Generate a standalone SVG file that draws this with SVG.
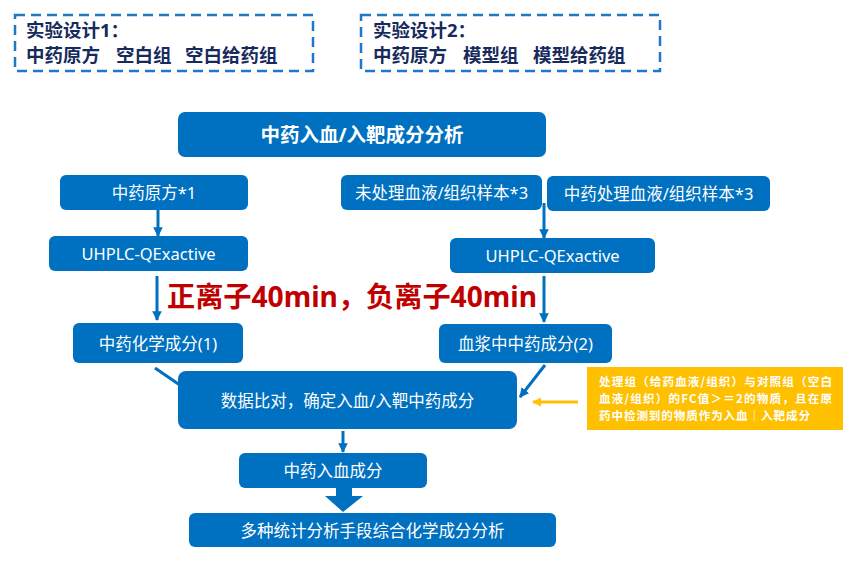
<svg xmlns="http://www.w3.org/2000/svg" width="864" height="566" viewBox="0 0 864 566">
<defs>
<marker id="ah" viewBox="0 0 10 10" refX="9" refY="5" markerWidth="3.2" markerHeight="3.2" orient="auto" markerUnits="strokeWidth">
<path d="M0,0 L10,5 L0,10 Z" fill="#0070c0"/>
</marker>
<marker id="ahy" viewBox="0 0 10 10" refX="9" refY="5" markerWidth="3" markerHeight="3" orient="auto" markerUnits="strokeWidth">
<path d="M0,0 L10,5 L0,10 Z" fill="#ffc000"/>
</marker>
<style>
.dash{fill:none;stroke:#1f78c8;stroke-width:2.5;stroke-dasharray:10 6}
.hd{font-family:"Noto Sans","Noto Sans CJK SC",sans-serif;font-weight:bold;font-size:18.5px;fill:#172a5c}
.box{fill:#0070c0}
.t{font-family:"Noto Sans","Noto Sans CJK SC",sans-serif;font-size:16.5px;fill:#ffffff;text-anchor:middle;dominant-baseline:central}
.tb{font-weight:bold;font-size:19.5px}
.con{stroke:#0070c0;stroke-width:3;fill:none;marker-end:url(#ah)}
.yt{font-family:"Noto Sans CJK SC",sans-serif;font-weight:bold;font-size:11.6px;fill:#ffffff}
.red{font-family:"Noto Sans","Noto Sans CJK SC",sans-serif;font-weight:bold;font-size:28px;fill:#c00000}
</style>
</defs>
<rect width="864" height="566" fill="#ffffff"/>

<g id="design1">
<rect class="dash" x="15" y="15" width="298" height="56"/>
<text class="hd" x="26" y="37">实验设计1：</text>
<text class="hd" y="62"><tspan x="26">中药原方</tspan><tspan x="116">空白组</tspan><tspan x="185">空白给药组</tspan></text>
</g>
<g id="design2">
<rect class="dash" x="361" y="15" width="299" height="56"/>
<text class="hd" x="373" y="37">实验设计2：</text>
<text class="hd" y="62"><tspan x="373">中药原方</tspan><tspan x="463">模型组</tspan><tspan x="533">模型给药组</tspan></text>
</g>

<g id="connectors">
<line class="con" x1="158" y1="210" x2="158" y2="236"/>
<line class="con" x1="544" y1="203" x2="544" y2="238"/>
<line class="con" x1="157" y1="276" x2="157" y2="320"/>
<line class="con" x1="544" y1="276" x2="544" y2="322"/>
<line class="con" x1="155" y1="368" x2="190" y2="392"/>
<line class="con" x1="545" y1="365" x2="520" y2="397"/>
<line class="con" x1="343" y1="431" x2="343" y2="452"/>
<line stroke="#ffc000" stroke-width="3" marker-end="url(#ahy)" x1="578" y1="402" x2="533" y2="402"/>
<path d="M336,488 L352,488 L352,496 L363,496 L343,512 L325,496 L336,496 Z" fill="#0070c0"/>
</g>

<g id="title">
<rect class="box" x="178" y="112" width="368" height="45" rx="7"/>
<text class="t tb" x="362" y="134.5">中药入血/入靶成分分析</text>
</g>
<g id="herb">
<rect class="box" x="60" y="175" width="188" height="35" rx="6"/>
<text class="t" x="154" y="192.5">中药原方*1</text>
</g>
<g id="uhplc1">
<rect class="box" x="49" y="236" width="199" height="35" rx="6"/>
<text class="t" x="148.5" y="253.5">UHPLC-QExactive</text>
</g>
<g id="untreated">
<rect class="box" x="341" y="175" width="201" height="35" rx="6"/>
<text class="t" x="441.5" y="192.5">未处理血液/组织样本*3</text>
</g>
<g id="treated">
<rect class="box" x="547" y="176" width="223" height="35" rx="6"/>
<text class="t" x="658.5" y="193.5">中药处理血液/组织样本*3</text>
</g>
<g id="uhplc2">
<rect class="box" x="450" y="238" width="205" height="35" rx="6"/>
<text class="t" x="552.5" y="255.5">UHPLC-QExactive</text>
</g>
<text class="red" x="167" y="307" textLength="370" lengthAdjust="spacingAndGlyphs">正离子40min，负离子40min</text>
<g id="chem">
<rect class="box" x="73" y="323" width="170" height="40" rx="6"/>
<text class="t" x="158" y="343">中药化学成分(1)</text>
</g>
<g id="plasma">
<rect class="box" x="439" y="324" width="173" height="39" rx="6"/>
<text class="t" x="525.5" y="343.5">血浆中中药成分(2)</text>
</g>
<g id="compare">
<rect class="box" x="178" y="371" width="339" height="58" rx="8"/>
<text class="t" x="347.5" y="400">数据比对，确定入血/入靶中药成分</text>
</g>
<g id="note">
<rect x="587" y="367" width="256" height="63" fill="#ffc000"/>
<text class="yt" x="599" y="386" textLength="233" lengthAdjust="spacing">处理组（给药血液/组织）与对照组（空白</text>
<text class="yt" x="599" y="403" textLength="233" lengthAdjust="spacing">血液/组织）的FC值＞＝2的物质，且在原</text>
<text class="yt" x="599" y="420" textLength="211" lengthAdjust="spacing">药中检测到的物质作为入血｜入靶成分</text>
</g>
<g id="absorbed">
<rect class="box" x="239" y="453" width="188" height="35" rx="6"/>
<text class="t" x="333" y="470.5">中药入血成分</text>
</g>
<g id="stats">
<rect class="box" x="189" y="513" width="367" height="34" rx="6"/>
<text class="t" x="372.5" y="530">多种统计分析手段综合化学成分分析</text>
</g>
</svg>
